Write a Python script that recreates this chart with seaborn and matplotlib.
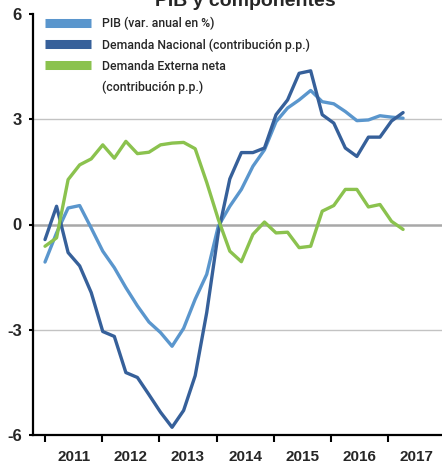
import numpy as np
import pandas as pd
import seaborn as sns
import matplotlib.pyplot as plt
from matplotlib.lines import Line2D

# Values (32 quarterly points)
pib = [-1.07, -0.24, 0.47, 0.54, -0.10, -0.76, -1.23, -1.80, -2.32, -2.78,
       -3.08, -3.47, -2.96, -2.13, -1.42, -0.05, 0.52, 1.00, 1.66, 2.13,
       2.93, 3.32, 3.55, 3.82, 3.50, 3.44, 3.22, 2.96, 2.98, 3.10, 3.06, 3.03]
demanda_nacional = [-0.43, 0.52, -0.80, -1.18, -1.94, -3.05, -3.19, -4.22, -4.36, -4.85,
                    -5.35, -5.78, -5.30, -4.31, -2.51, -0.24, 1.30, 2.05, 2.05, 2.18,
                    3.13, 3.55, 4.31, 4.38, 3.13, 2.89, 2.18, 1.94, 2.49, 2.49, 2.95, 3.19]
demanda_externa = [-0.62, -0.38, 1.28, 1.70, 1.87, 2.27, 1.89, 2.37, 2.02, 2.06,
                   2.27, 2.32, 2.34, 2.16, 1.20, 0.15, -0.76, -1.06, -0.28, 0.07,
                   -0.24, -0.22, -0.66, -0.62, 0.38, 0.54, 1.00, 1.00, 0.50, 0.57, 0.09, -0.14]
years = ['2011', '2012', '2013', '2014', '2015', '2016', '2017']
y_ticks = [-6, -3, 0, 3, 6]

series_names = ['PIB (var. anual en %)',
                'Demanda Nacional (contribución p.p.)',
                'Demanda Externa neta\n(contribución p.p.)']
colors = ['#5a96cd', '#36609a', '#8bc24e']

# long table for seaborn
df = pd.DataFrame({
    't': list(range(len(pib))) * 3,
    'valor': pib + demanda_nacional + demanda_externa,
    'serie': [series_names[0]] * len(pib) + [series_names[1]] * len(pib) + [series_names[2]] * len(pib),
})

sns.set_style('white')
plt.rcParams['font.family'] = ['Liberation Sans', 'DejaVu Sans']

fig = plt.figure(figsize=(4.42, 4.66), dpi=100)
ax = fig.add_axes([33 / 442, 31 / 466, 409 / 442, 421 / 466])

# gridlines
for v in [3, -3]:
    ax.axhline(v, color='#c3c3c3', lw=1.0, zorder=0)
ax.axhline(0, color='#a8a8a8', lw=1.8, zorder=0)

sns.lineplot(data=df, x='t', y='valor', hue='serie', hue_order=series_names,
             palette=colors, linewidth=2.4, legend=False, ax=ax)

ax.set_xlim(-1.04, 34.37)
ax.set_ylim(-6, 6)
ax.set_xlabel('')
ax.set_ylabel('')

# year boundaries and centred labels
step = 4.95
ax.set_xticks(np.arange(len(years)) * step)
ax.set_xticklabels([])
ax.set_xticks(np.arange(len(years)) * step + step / 2, minor=True)
ax.set_xticklabels(years, minor=True, fontweight='bold', fontsize=11)
ax.tick_params(axis='x', which='major', direction='out', length=5, width=1.5, color='black', bottom=True)
ax.tick_params(axis='x', which='minor', length=0, pad=11)

ax.set_yticks(y_ticks)
ax.set_yticklabels([str(v) for v in y_ticks], fontweight='bold', fontsize=12)
ax.tick_params(axis='y', direction='out', length=3, width=1.5, color='black', left=True, pad=5)

for s in ['top', 'right']:
    ax.spines[s].set_visible(False)
for s in ['left', 'bottom']:
    ax.spines[s].set_color('black')
    ax.spines[s].set_linewidth(1.6)

# legend: third entry split over two rows, patch on the first row
handles = [Line2D([0], [0], color=c, lw=6.5, solid_capstyle='butt') for c in colors]
handles.append(Line2D([0], [0], color='none'))
labels = ['PIB (var. anual en %)', 'Demanda Nacional (contribución p.p.)',
          'Demanda Externa neta', '(contribución p.p.)']
ax.legend(handles, labels, loc='upper left', bbox_to_anchor=(0.029, 0.993),
          frameon=False, prop={'family': 'Roboto', 'weight': 'medium', 'size': 8.8},
          borderpad=0, borderaxespad=0,
          handlelength=3.75, handletextpad=0.92, labelspacing=0.66)

fig.text(245 / 442, 1 - 6 / 466, 'PIB y componentes', ha='center', va='baseline',
         fontweight='bold', fontsize=14)

fig.savefig('out.png', dpi=100)
